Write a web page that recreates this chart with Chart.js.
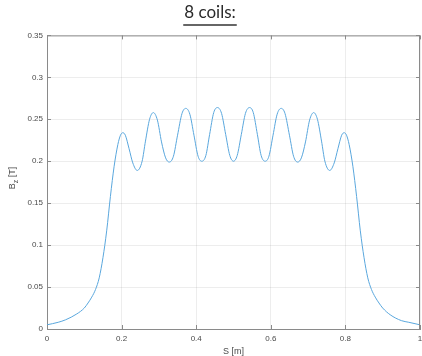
<!DOCTYPE html>
<html>
<head>
<meta charset="utf-8">
<script src="https://cdn.jsdelivr.net/npm/chart.js@4/dist/chart.umd.min.js"></script>
<style>
  html, body { margin: 0; padding: 0; background: #fff; }
  #wrap { width: 422px; height: 356px; }
</style>
</head>
<body>
<div id="wrap"><canvas id="c" width="422" height="356"></canvas></div>
<script>
// S positions [m] along the axis
const sValues = [
  0, 0.03, 0.05, 0.08, 0.10, 0.11, 0.12, 0.13, 0.14, 0.15, 0.16, 0.17, 0.18, 0.19,
  0.197, 0.203, 0.21, 0.22, 0.23, 0.242, 0.255, 0.264, 0.275, 0.285, 0.296, 0.307,
  0.318, 0.328, 0.339, 0.350, 0.362, 0.372, 0.383, 0.394, 0.405, 0.415, 0.426, 0.436,
  0.447, 0.457, 0.468, 0.479, 0.490, 0.500, 0.510, 0.521, 0.532, 0.543, 0.553, 0.564,
  0.574, 0.585, 0.595, 0.606, 0.617, 0.628, 0.638, 0.650, 0.661, 0.672, 0.682, 0.693,
  0.704, 0.715, 0.725, 0.736, 0.745, 0.758, 0.77, 0.78, 0.79, 0.797, 0.803, 0.81,
  0.82, 0.83, 0.84, 0.85, 0.86, 0.87, 0.88, 0.89, 0.90, 0.92, 0.95, 0.97, 1.0
];
// B_z [T] at those positions
const bzValues = [
  0.005, 0.008, 0.011, 0.018, 0.025, 0.031, 0.038, 0.047, 0.061, 0.085, 0.117, 0.158, 0.194, 0.220,
  0.231, 0.234, 0.231, 0.215, 0.198, 0.189, 0.200, 0.224, 0.250, 0.258, 0.249, 0.223,
  0.204, 0.199, 0.206, 0.231, 0.257, 0.263, 0.256, 0.231, 0.206, 0.200, 0.207, 0.232,
  0.258, 0.264, 0.257, 0.232, 0.207, 0.200, 0.207, 0.232, 0.257, 0.264, 0.258, 0.232,
  0.207, 0.200, 0.206, 0.231, 0.256, 0.263, 0.257, 0.231, 0.206, 0.199, 0.204, 0.223,
  0.249, 0.258, 0.250, 0.224, 0.200, 0.189, 0.198, 0.215, 0.231, 0.234, 0.231, 0.220,
  0.194, 0.158, 0.117, 0.085, 0.061, 0.047, 0.038, 0.031, 0.025, 0.017, 0.010, 0.008, 0.005
];

const xTicks = [0, 0.2, 0.4, 0.6, 0.8, 1];
const yTicks = [0, 0.05, 0.1, 0.15, 0.2, 0.25, 0.3, 0.35];
const xTickLabels = ['0', '0.2', '0.4', '0.6', '0.8', '1'];
const yTickLabels = ['0', '0.05', '0.1', '0.15', '0.2', '0.25', '0.3', '0.35'];

const titleText = '8 coils:';
const AXIS_COLOR = '#8a8a8a';
const TEXT_COLOR = '#4a4a4a';

const points = sValues.map((s, i) => ({ x: s, y: bzValues[i] }));

// box on top/right, inward ticks, title underline, axis titles
const matlabAxes = {
  id: 'matlabAxes',
  afterDraw(chart) {
    const { ctx, chartArea: a, scales } = chart;
    ctx.save();
    ctx.strokeStyle = AXIS_COLOR;
    ctx.lineWidth = 1;
    ctx.beginPath();
    ctx.moveTo(a.left, a.top + 0.5);
    ctx.lineTo(a.right, a.top + 0.5);
    ctx.moveTo(a.right - 0.5, a.top);
    ctx.lineTo(a.right - 0.5, a.bottom);
    xTicks.forEach(v => {
      const px = Math.round(scales.x.getPixelForValue(v)) + 0.5;
      ctx.moveTo(px, a.bottom); ctx.lineTo(px, a.bottom - 4);
      ctx.moveTo(px, a.top); ctx.lineTo(px, a.top + 4);
    });
    yTicks.forEach(v => {
      const py = Math.round(scales.y.getPixelForValue(v)) + 0.5;
      ctx.moveTo(a.left, py); ctx.lineTo(a.left + 4, py);
      ctx.moveTo(a.right, py); ctx.lineTo(a.right - 4, py);
    });
    ctx.stroke();

    // title underline
    const tb = chart.titleBlock;
    ctx.font = '17px Lato, "Noto Sans", sans-serif';
    const w = ctx.measureText(titleText).width;
    const cx = (tb.left + tb.right) / 2;
    ctx.strokeStyle = '#333';
    ctx.lineWidth = 1.3;
    ctx.beginPath();
    ctx.moveTo(cx - w / 2 - 1, 25);
    ctx.lineTo(cx + w / 2 + 1, 25);
    ctx.stroke();

    // x axis title
    ctx.fillStyle = TEXT_COLOR;
    ctx.font = '9px "Liberation Sans", Arial, sans-serif';
    ctx.textAlign = 'center';
    ctx.textBaseline = 'alphabetic';
    ctx.fillText('S [m]', (a.left + a.right) / 2, 354);

    // y axis title with subscript
    ctx.translate(15, 178);
    ctx.rotate(-Math.PI / 2);
    ctx.textAlign = 'left';
    const big = '9px "Liberation Sans", Arial, sans-serif';
    const small = '7px "Liberation Sans", Arial, sans-serif';
    ctx.font = big;
    const wB = ctx.measureText('B').width;
    ctx.font = small;
    const wz = ctx.measureText('z').width;
    ctx.font = big;
    const wT = ctx.measureText(' [T]').width;
    let x0 = -(wB + wz + wT) / 2;
    ctx.fillText('B', x0, 0);
    ctx.font = small;
    ctx.fillText('z', x0 + wB, 3);
    ctx.font = big;
    ctx.fillText(' [T]', x0 + wB + wz, 0);
    ctx.restore();
  }
};

new Chart(document.getElementById('c'), {
  type: 'line',
  data: {
    datasets: [{
      data: points,
      borderColor: '#5aa7dd',
      borderWidth: 1,
      pointRadius: 0,
      cubicInterpolationMode: 'monotone',
      fill: false
    }]
  },
  options: {
    responsive: false,
    animation: false,
    layout: { padding: { left: 0, right: 2, top: 0, bottom: 0 } },
    plugins: {
      legend: { display: false },
      tooltip: { enabled: false },
      title: {
        display: true,
        text: titleText,
        color: '#2a2a2a',
        font: { family: 'Lato, "Noto Sans", sans-serif', size: 17, weight: 'normal', lineHeight: 1.2 },
        padding: { top: 2, bottom: 13 }
      }
    },
    scales: {
      x: {
        type: 'linear',
        min: 0,
        max: 1,
        afterBuildTicks: s => { s.ticks = xTicks.map(v => ({ value: v })); },
        afterFit: s => { s.height = 27; s.paddingLeft = 0; s.paddingRight = 0; },
        ticks: {
          color: TEXT_COLOR,
          font: { family: '"Liberation Sans", Arial, sans-serif', size: 8 },
          padding: 5,
          maxRotation: 0,
          callback: (v) => xTickLabels[xTicks.indexOf(v)]
        },
        grid: { color: 'rgba(0,0,0,0.07)', drawTicks: false },
        border: { display: true, color: AXIS_COLOR, width: 1 }
      },
      y: {
        type: 'linear',
        min: 0,
        max: 0.35,
        afterBuildTicks: s => { s.ticks = yTicks.map(v => ({ value: v })); },
        afterFit: s => { s.width = 47; s.paddingTop = 0; s.paddingBottom = 0; },
        ticks: {
          color: TEXT_COLOR,
          font: { family: '"Liberation Sans", Arial, sans-serif', size: 8 },
          padding: 4,
          callback: (v) => yTickLabels[yTicks.indexOf(v)]
        },
        grid: { color: 'rgba(0,0,0,0.07)', drawTicks: false },
        border: { display: true, color: AXIS_COLOR, width: 1 }
      }
    }
  },
  plugins: [matlabAxes]
});
</script>
</body>
</html>
